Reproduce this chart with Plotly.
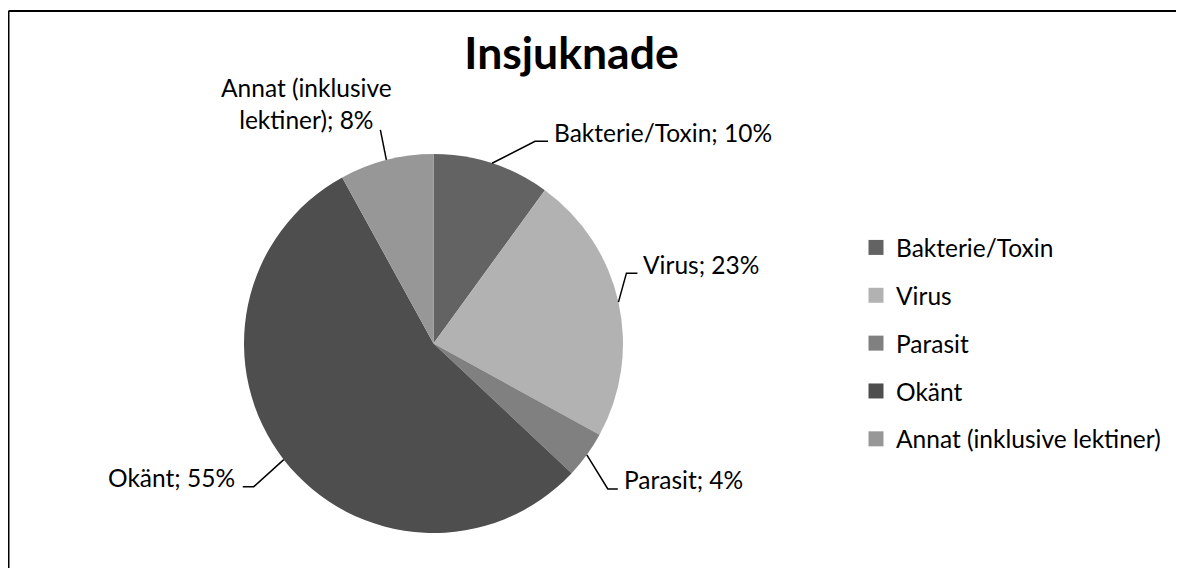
import math
import plotly.graph_objects as go

# ---- data ----
categories = ["Bakterie/Toxin", "Virus", "Parasit", "Okänt", "Annat (inklusive lektiner)"]
values = [10, 23, 4, 55, 8]
label_names = ["Bakterie/Toxin", "Virus", "Parasit", "Okänt", "Annat (inklusive<br>lektiner)"]
colors = ["#636363", "#b2b2b2", "#808080", "#4e4e4e", "#979797"]
title_text = "Insjuknade"

# ---- layout geometry (page pixels) ----
OX, OY = 8, 8          # page body margin
W, H = 1168, 560       # figure size (kept inside the window)
CX, CY, R = 433.5, 343.5, 189.5
FONT = "Lato"
FS = 24.5


def px(x):
    return (x - OX) / W


def py(y):
    return 1 - (y - OY) / H


fig = go.Figure()
fig.add_trace(go.Pie(
    labels=categories, values=values, sort=False, direction="clockwise", rotation=0,
    marker=dict(colors=colors, line=dict(width=0)), textinfo="none",
    hoverinfo="label+percent", showlegend=False,
    domain=dict(x=[px(CX - R), px(CX + R)], y=[py(CY + R), py(CY - R)]),
))

# legend entries (one group each so that item spacing can be set)
for name, col in zip(categories, colors):
    fig.add_trace(go.Scatter(
        x=[None], y=[None], mode="markers", name=name, legendgroup=name,
        marker=dict(symbol="square", size=15, color=col), hoverinfo="skip",
    ))

# leader-line style per slice: (elbow dx, elbow dy, horizontal run, side)
leader_style = [
    (43, -22, 13, "left"),
    (8, -29, 11, "left"),
    (21, 34, 10, "left"),
    (-30, 27, -11, "right"),
    (-6, -30, 0, "up"),
]

total = sum(values)
cum = 0.0
shapes = []
annotations = []
for name, v, (edx, edy, run, side) in zip(label_names, values, leader_style):
    mid = (cum + v / 2) / total * 2 * math.pi
    cum += v
    sx = CX + R * math.sin(mid)
    sy = CY - R * math.cos(mid)
    ex, ey = sx + edx, sy + edy
    fx, fy = ex + run, ey
    pct = f"{round(v / total * 100)}%"
    text = f"{name}; {pct}"
    path = f"M {px(sx)} {py(sy)} L {px(ex)} {py(ey)} L {px(fx)} {py(fy)}"
    shapes.append(dict(type="path", xref="paper", yref="paper", path=path,
                       line=dict(color="black", width=1.5)))
    font = dict(family=FONT, size=FS, color="black")
    if side == "left":
        annotations.append(dict(x=px(fx + 4), y=py(fy - 9), xref="paper", yref="paper",
                                text=text, showarrow=False, xanchor="left", yanchor="middle",
                                font=font))
    elif side == "right":
        annotations.append(dict(x=px(fx - 6), y=py(fy - 9), xref="paper", yref="paper",
                                text=text, showarrow=False, xanchor="right", yanchor="middle",
                                font=font))
    else:
        annotations.append(dict(x=px(fx - 74), y=py(fy - 26), xref="paper", yref="paper",
                                text=text, showarrow=False, xanchor="center", yanchor="middle",
                                align="center", font=font))

# outer border: left and top edges only (the others lie outside the view)
shapes.append(dict(type="line", xref="paper", yref="paper",
                   x0=px(8.5), y0=0, x1=px(8.5), y1=py(11),
                   line=dict(color="black", width=2)))
shapes.append(dict(type="line", xref="paper", yref="paper",
                   x0=px(8.5), y0=py(11), x1=1, y1=py(11),
                   line=dict(color="black", width=2)))

fig.update_layout(
    width=W, height=H, autosize=False,
    margin=dict(l=0, r=0, t=0, b=0),
    paper_bgcolor="white", plot_bgcolor="white",
    title=dict(text=title_text, x=px(571.5), y=py(53), xanchor="center", yanchor="middle",
               xref="paper", yref="paper",
               font=dict(family=FONT, size=44.5, color="black", weight="bold")),
    xaxis=dict(visible=False), yaxis=dict(visible=False),
    showlegend=True,
    legend=dict(x=px(856), y=py(343.5), xanchor="left", yanchor="middle",
                tracegroupgap=13, font=dict(family=FONT, size=FS, color="black"),
                bgcolor="rgba(0,0,0,0)", itemclick=False, itemdoubleclick=False),
    shapes=shapes, annotations=annotations,
    font=dict(family=FONT),
)

fig.write_html("out.html", config={"displayModeBar": False})
